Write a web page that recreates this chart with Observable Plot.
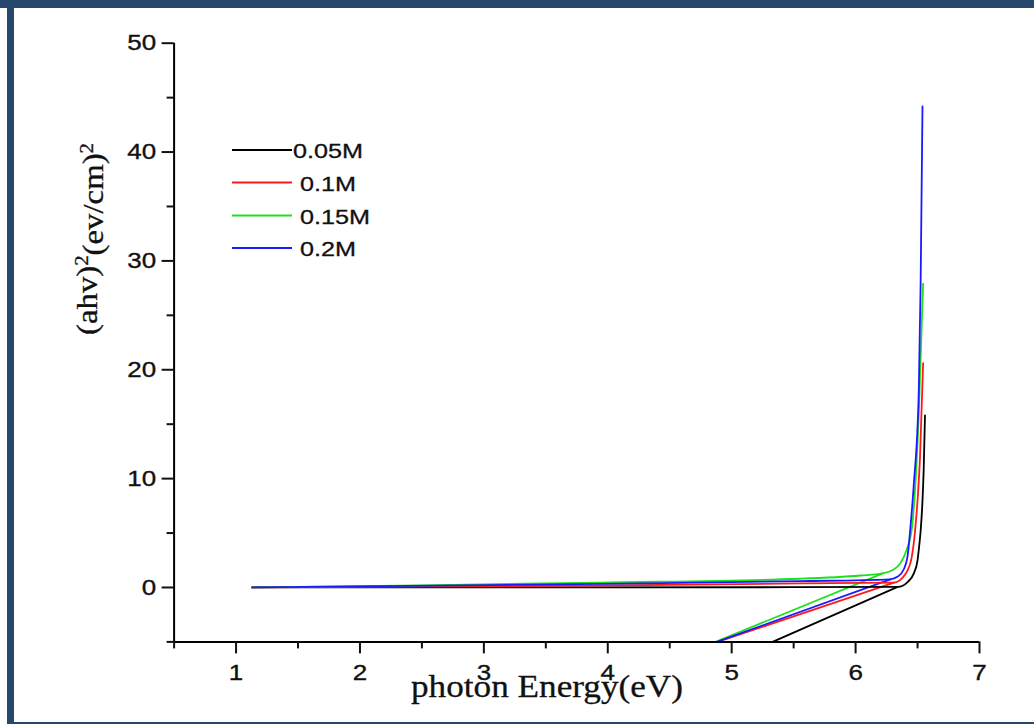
<!DOCTYPE html>
<html>
<head>
<meta charset="utf-8">
<script src="https://cdn.jsdelivr.net/npm/d3@7"></script>
<script src="https://cdn.jsdelivr.net/npm/@observablehq/plot@0.6"></script>
<style>
  html, body { margin: 0; padding: 0; background: #fff; }
  #wrap { position: relative; width: 1034px; height: 724px; overflow: hidden; background: #fff; }
  #wrap svg { position: absolute; left: 0; top: 0; }
  .band { position: absolute; background: #27476c; }
</style>
</head>
<body>
<div id="wrap">
  <div class="band" style="left:0;top:0;width:1034px;height:8px;"></div>
  <div class="band" style="left:7px;top:0;width:7px;height:724px;"></div>
  <div class="band" style="left:7px;top:722px;width:1027px;height:2px;"></div>
</div>
<script>
// ---- data ----
const series = ["0.05M", "0.1M", "0.15M", "0.2M"];
const colors = ["#000000", "#ff1a1a", "#1ee01e", "#1a1aff"];

// main curve of each series: [photon energy (eV), (ahv)^2]
const main005 = [[1.13,0],[3.5,0],[6.34,0.05],[6.42,0.5],[6.47,1.3],[6.50,2.5],[6.515,4.0],[6.525,5.2],[6.54,8],[6.55,11],[6.56,15.8]];
const main01  = [[1.13,0],[3.94,0.18],[5.55,0.37],[6.31,0.45],[6.38,0.9],[6.42,1.6],[6.45,2.6],[6.48,5.2],[6.50,8],[6.52,12],[6.545,20.6]];
const main015 = [[1.13,0],[2.5,0.2],[3.94,0.45],[5.55,0.8],[6.04,1.1],[6.22,1.3],[6.30,1.6],[6.36,2.2],[6.41,3.4],[6.455,5.5],[6.48,9],[6.51,16],[6.545,27.9]];
const main02  = [[1.13,0],[3.94,0.33],[5.55,0.58],[6.28,0.75],[6.34,1.0],[6.39,1.7],[6.42,2.9],[6.44,5.2],[6.47,9.5],[6.51,18],[6.525,28],[6.54,44.2]];
// straight tail of each series that runs down-left below the x axis
const tail005 = [[5.33,-5],[6.34,0.05]];
const tail01  = [[4.885,-5],[6.31,0.45]];
const tail015 = [[4.87,-5],[6.22,1.3]];
const tail02  = [[4.88,-5],[6.28,0.75]];

const xMajor = [1, 2, 3, 4, 5, 6, 7];
const xMinor = [0.5, 1.5, 2.5, 3.5, 4.5, 5.5, 6.5];
const yMajor = [0, 10, 20, 30, 40, 50];
const yMinor = [-5, 5, 15, 25, 35, 45];

// ---- build tables ----
const mains = [main005, main01, main015, main02];
const tails = [tail005, tail01, tail015, tail02];
const mainRows = [], tailRows = [];
series.forEach((s, i) => {
  mains[i].forEach(([x, y]) => mainRows.push({series: s, x, y}));
  tails[i].forEach(([x, y]) => tailRows.push({series: s, x, y}));
});

const sans = "'Liberation Sans', Arial, sans-serif";
const serif = "'Liberation Serif', 'Times New Roman', serif";

const chart = Plot.plot({
  width: 1034,
  height: 724,
  marginLeft: 173.6,
  marginRight: 55,
  marginTop: 42.7,
  marginBottom: 82.6,
  style: {background: "transparent", fontFamily: sans, fontSize: "22px", color: "#111"},
  x: {domain: [0.5, 7]},
  y: {domain: [-5, 50]},
  color: {domain: series, range: colors},
  marks: [
    Plot.line(tailRows, {x: "x", y: "y", z: "series", stroke: "series", strokeWidth: 1.8}),
    Plot.line(mainRows, {x: "x", y: "y", z: "series", stroke: "series", strokeWidth: 1.8, curve: "monotone-x"}),
    Plot.ruleY([-5], {stroke: "#000", strokeWidth: 2}),
    Plot.ruleX([0.5], {stroke: "#000", strokeWidth: 2}),
    Plot.axisX({ticks: xMajor, tickSize: 12, tickPadding: 10, strokeWidth: 2, fontSize: 22, label: null, tickFormat: d => String(d)}),
    Plot.axisX({ticks: xMinor, tickSize: 7, strokeWidth: 2, tickFormat: () => "", label: null}),
    Plot.axisY({ticks: yMajor, tickSize: 12, tickPadding: 6, strokeWidth: 2, fontSize: 22, label: null, tickFormat: d => String(d)}),
    Plot.axisY({ticks: yMinor, tickSize: 7, strokeWidth: 2, tickFormat: () => "", label: null})
  ]
});

document.getElementById("wrap").prepend(chart);

const svg = d3.select(chart);
// slightly widened and heavier tick labels, as in the reference
svg.selectAll("text").each(function() {
  const t = this.getAttribute("transform") || "";
  this.setAttribute("transform", t + " scale(1.18,1)");
  this.setAttribute("font-size", 22);
  this.style.fill = "#111";
  this.style.stroke = "#111";
  this.style.strokeWidth = "0.35px";
});

// axis titles
const yt = svg.append("text")
  .attr("transform", "translate(97,239) rotate(-90)")
  .attr("text-anchor", "middle")
  .attr("font-family", serif)
  .attr("font-size", 30)
  .attr("fill", "#111")
  .attr("stroke", "#111").attr("stroke-width", 0.3)
  .attr("textLength", 192)
  .attr("lengthAdjust", "spacingAndGlyphs");
yt.append("tspan").text("(ahv)");
yt.append("tspan").attr("dy", "-0.5em").attr("font-size", 19).text("2");
yt.append("tspan").attr("dy", "0.5em").text("(ev/cm)");
yt.append("tspan").attr("dy", "-0.5em").attr("font-size", 19).text("2");

svg.append("text")
  .attr("x", 547).attr("y", 697)
  .attr("text-anchor", "middle")
  .attr("font-family", serif)
  .attr("font-size", 32)
  .attr("fill", "#111")
  .attr("stroke", "#111").attr("stroke-width", 0.3)
  .attr("textLength", 272)
  .attr("lengthAdjust", "spacingAndGlyphs")
  .text("photon Energy(eV)");

// legend
const legY = [150, 182.5, 215.5, 248];
const legTextX = [293, 300, 300, 300];
series.forEach((s, i) => {
  svg.append("line")
    .attr("x1", 232).attr("x2", 292)
    .attr("y1", legY[i]).attr("y2", legY[i])
    .attr("stroke", colors[i]).attr("stroke-width", 1.8);
  svg.append("text")
    .attr("transform", `translate(${legTextX[i]},${legY[i] + 8}) scale(1.2,1)`)
    .attr("text-anchor", "start")
    .attr("font-family", sans)
    .attr("font-size", 21)
    .attr("fill", "#111")
    .attr("stroke", "#111").attr("stroke-width", 0.3)
    .text(s);
});
</script>
</body>
</html>
